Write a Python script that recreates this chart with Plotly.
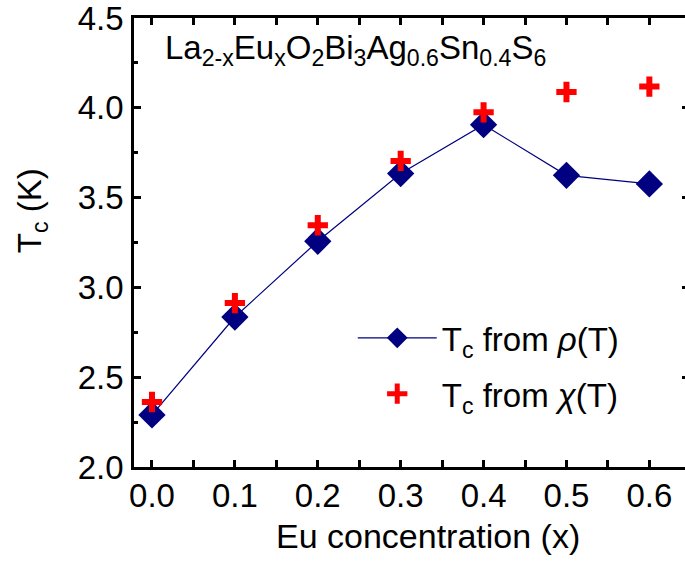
import plotly.graph_objects as go

x_eu = [0.0, 0.1, 0.2, 0.3, 0.4, 0.5, 0.6]
tc_rho = [2.29, 2.835, 3.257, 3.634, 3.906, 3.624, 3.576]
tc_chi = [2.362, 2.913, 3.346, 3.704, 3.975, 4.088, 4.118]

name_rho = "T<sub>c</sub> from <i>ρ</i>(T)"
name_chi = "T<sub>c</sub> from <i>χ</i>(T)"
compound = "La<sub>2-x</sub>Eu<sub>x</sub>O<sub>2</sub>Bi<sub>3</sub>Ag<sub>0.6</sub>Sn<sub>0.4</sub>S<sub>6</sub>"
x_title = "Eu concentration (x)"
y_title = "T<sub>c</sub> (K)"

FONT = "Arial, Liberation Sans, sans-serif"
NAVY = "#000080"
RED = "#FF0000"

fig = go.Figure()
fig.add_trace(go.Scatter(
    x=x_eu, y=tc_rho, mode="lines+markers", name=name_rho, legendgroup="a",
    line=dict(color=NAVY, width=1.2),
    marker=dict(symbol="diamond", size=21, color=NAVY, line=dict(width=0)),
))
fig.add_trace(go.Scatter(
    x=x_eu, y=tc_chi, mode="markers", name=name_chi, legendgroup="b",
    marker=dict(symbol="cross-thin", size=14.5, color=RED, line=dict(width=6, color=RED)),
))
# right-side mirrored ticks (the right frame line is cropped in the reference)
fig.add_trace(go.Scatter(x=[None], y=[None], yaxis="y2", showlegend=False, hoverinfo="skip"))

axis_common = dict(
    showgrid=False, zeroline=False, showline=True, linecolor="black", linewidth=2.5,
    ticks="inside", ticklen=7, tickwidth=2.5, tickcolor="black",
    tickfont=dict(family=FONT, size=33, color="black"),
    ticklabeloverflow="allow",
)

fig.update_layout(
    width=685, height=561,
    margin=dict(l=134, r=0, t=18, b=94),
    plot_bgcolor="white", paper_bgcolor="white",
    font=dict(family=FONT, size=33, color="black"),
    xaxis=dict(
        range=[-0.0217, 0.643], dtick=0.1, tick0=0, tickformat=".1f",
        mirror="allticks",
        minor=dict(dtick=0.05, tick0=0, ticks="inside", ticklen=4, tickwidth=2.5, tickcolor="black"),
        ticklabelstandoff=-2,
        **axis_common,
    ),
    yaxis=dict(
        range=[2.0, 4.5], dtick=0.5, tick0=2.0, tickformat=".1f",
        minor=dict(dtick=0.25, tick0=2.0, ticks="inside", ticklen=4, tickwidth=2.5, tickcolor="black"),
        ticklabelstandoff=1,
        **axis_common,
    ),
    yaxis2=dict(
        overlaying="y", side="right", range=[2.0, 4.5], dtick=0.5, tick0=2.0,
        showgrid=False, zeroline=False, showline=False, showticklabels=False,
        ticks="inside", ticklen=3, tickwidth=2.5, tickcolor="black",
    ),
    legend=dict(
        x=0.397, y=0.35, xanchor="left", yanchor="top",
        bgcolor="rgba(0,0,0,0)", borderwidth=0,
        font=dict(family=FONT, size=33, color="black"),
        itemwidth=79, tracegroupgap=10, traceorder="grouped",
    ),
    showlegend=True,
    annotations=[
        dict(text=compound, xref="paper", yref="paper", x=0.0526, y=0.98,
             xanchor="left", yanchor="top", showarrow=False,
             font=dict(family=FONT, size=33, color="black")),
        dict(text=y_title, xref="paper", yref="paper", x=-0.185, y=0.57,
             xanchor="center", yanchor="middle", textangle=-90, showarrow=False,
             font=dict(family=FONT, size=33, color="black")),
        dict(text=x_title, xref="paper", yref="paper", x=0.533, y=-0.154,
             xanchor="center", yanchor="middle", showarrow=False,
             font=dict(family=FONT, size=34, color="black")),
    ],
)

fig.write_html("out.html", config={"displayModeBar": False},
               post_script="document.body.style.margin='0px';")
